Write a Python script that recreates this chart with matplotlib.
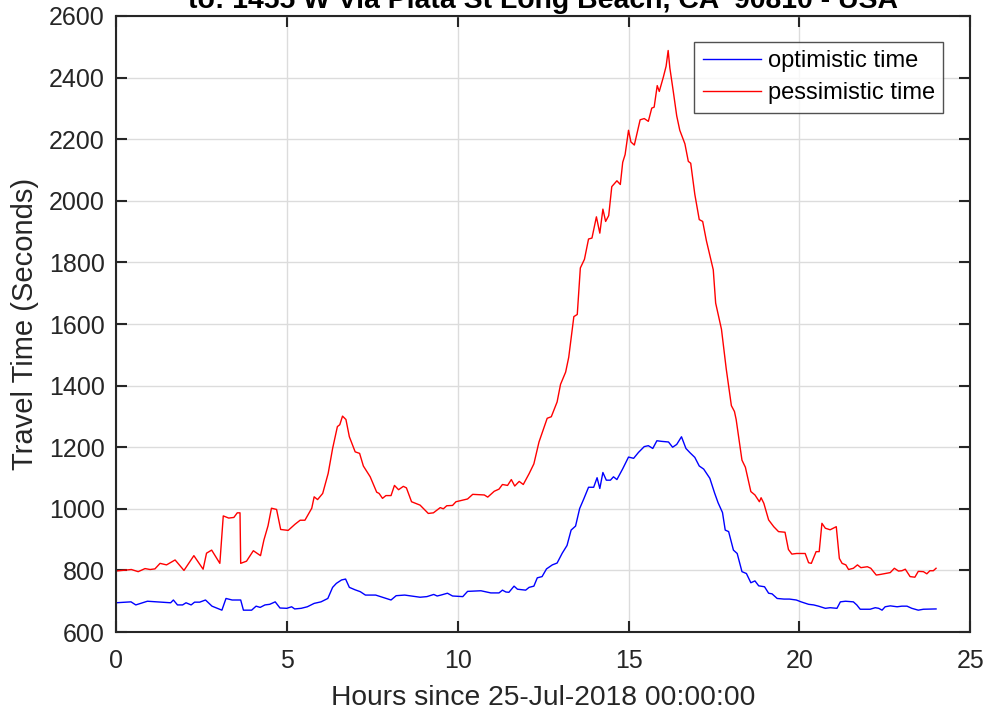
import numpy as np
import matplotlib
matplotlib.use('Agg')
import matplotlib.pyplot as plt

# hours / seconds
hours_pess = [0.0, 0.45, 0.65, 0.85, 1.0, 1.14, 1.29, 1.48, 1.73, 1.99, 2.28, 2.55, 2.65, 2.8,
              3.04, 3.14, 3.3, 3.45, 3.55, 3.63, 3.65, 3.82, 4.02, 4.23, 4.33, 4.45, 4.55, 4.7,
              4.82, 5.04, 5.24, 5.39, 5.53, 5.73, 5.8, 5.9, 6.05, 6.21, 6.34, 6.48, 6.55, 6.63,
              6.73, 6.83, 7.0, 7.13, 7.24, 7.44, 7.63, 7.7, 7.8, 7.9, 8.05, 8.15, 8.27, 8.41,
              8.5, 8.65, 8.9, 9.14, 9.29, 9.49, 9.58, 9.68, 9.85, 9.95, 10.29, 10.44, 10.78,
              10.88, 11.07, 11.21, 11.31, 11.46, 11.57, 11.67, 11.8, 11.92, 12.09, 12.23, 12.38,
              12.62, 12.74, 12.91, 13.01, 13.16, 13.25, 13.4, 13.5, 13.59, 13.71, 13.83, 13.93,
              14.06, 14.16, 14.25, 14.33, 14.42, 14.51, 14.66, 14.76, 14.83, 14.9, 15.0, 15.07,
              15.17, 15.34, 15.46, 15.58, 15.68, 15.75, 15.84, 15.9, 16.02, 16.1, 16.16, 16.21,
              16.31, 16.41, 16.5, 16.65, 16.75, 16.82, 16.94, 17.07, 17.17, 17.28, 17.48, 17.55,
              17.72, 17.86, 18.01, 18.1, 18.15, 18.32, 18.42, 18.58, 18.7, 18.83, 18.88, 18.96,
              19.1, 19.25, 19.39, 19.58, 19.68, 19.78, 19.92, 20.17, 20.27, 20.35, 20.49, 20.58,
              20.66, 20.76, 20.9, 21.08, 21.17, 21.25, 21.36, 21.44, 21.58, 21.7, 21.8, 21.99,
              22.09, 22.25, 22.37, 22.51, 22.66, 22.78, 22.9, 23.0, 23.1, 23.24, 23.38, 23.48,
              23.63, 23.73, 23.82, 23.92, 24.0]
pessimistic = [798, 803, 796, 806, 803, 805, 823, 818, 834, 800, 848, 804, 856, 866,
               823, 977, 970, 972, 987, 987, 823, 830, 864, 848, 899, 945, 1002, 998,
               933, 930, 950, 963, 963, 1002, 1039, 1030, 1050, 1115, 1196, 1267, 1273, 1301,
               1290, 1234, 1185, 1180, 1139, 1104, 1054, 1050, 1034, 1043, 1043, 1076, 1062, 1073,
               1068, 1023, 1012, 985, 987, 1004, 1000, 1010, 1011, 1023, 1032, 1047, 1045,
               1038, 1057, 1064, 1079, 1076, 1095, 1074, 1089, 1079, 1114, 1146, 1217,
               1294, 1299, 1347, 1404, 1444, 1492, 1624, 1631, 1782, 1810, 1876, 1879,
               1948, 1895, 1973, 1933, 1952, 2046, 2065, 2053, 2125, 2150, 2229, 2191,
               2181, 2263, 2267, 2258, 2301, 2304, 2374, 2355, 2402, 2437, 2488, 2431,
               2355, 2276, 2229, 2185, 2128, 2122, 2021, 1939, 1933, 1870, 1776, 1668,
               1583, 1454, 1335, 1316, 1290, 1158, 1135, 1056, 1045, 1023, 1036, 1018,
               964, 942, 926, 924, 868, 853, 855, 855, 825, 823, 861, 861,
               953, 937, 932, 942, 839, 823, 818, 803, 807, 818, 809, 812,
               807, 785, 787, 790, 793, 807, 798, 799, 804, 780, 778, 797,
               796, 789, 799, 799, 807]

hours_opt = [0.0, 0.44, 0.58, 0.92, 1.6, 1.68, 1.8, 1.95, 2.05, 2.2, 2.3, 2.45, 2.62, 2.81,
             3.1, 3.22, 3.4, 3.65, 3.73, 3.97, 4.1, 4.22, 4.36, 4.5, 4.66, 4.8, 5.0, 5.14,
             5.23, 5.42, 5.6, 5.8, 6.0, 6.2, 6.34, 6.45, 6.6, 6.72, 6.83, 7.0, 7.15, 7.3,
             7.6, 7.8, 8.05, 8.2, 8.45, 8.9, 9.1, 9.3, 9.4, 9.51, 9.7, 9.85, 10.15, 10.29,
             10.68, 10.97, 11.21, 11.31, 11.41, 11.5, 11.65, 11.75, 11.99, 12.09, 12.23, 12.33,
             12.47, 12.6, 12.77, 12.91, 13.06, 13.2, 13.32, 13.45, 13.57, 13.69, 13.83, 13.98,
             14.08, 14.16, 14.25, 14.35, 14.47, 14.56, 14.66, 14.83, 15.0, 15.15, 15.29, 15.46,
             15.58, 15.71, 15.83, 15.97, 16.17, 16.29, 16.41, 16.55, 16.68, 16.8, 16.94, 17.07,
             17.2, 17.38, 17.52, 17.62, 17.75, 17.83, 17.93, 18.07, 18.18, 18.32, 18.45, 18.58,
             18.7, 18.81, 18.98, 19.1, 19.2, 19.35, 19.55, 19.71, 19.91, 20.05, 20.27, 20.42,
             20.56, 20.76, 20.9, 21.1, 21.2, 21.35, 21.58, 21.68, 21.78, 22.07, 22.22, 22.32,
             22.42, 22.51, 22.66, 22.86, 23.0, 23.15, 23.29, 23.48, 23.63, 24.0]
optimistic = [695, 698, 688, 700, 695, 704, 688, 688, 695, 688, 697, 697, 704, 684,
              671, 709, 704, 704, 671, 671, 684, 680, 688, 690, 698, 678, 677, 682,
              675, 677, 682, 693, 698, 709, 745, 758, 769, 772, 745, 737, 731, 720,
              720, 713, 704, 718, 720, 713, 715, 722, 717, 720, 726, 717, 715, 732,
              734, 727, 727, 736, 730, 729, 749, 739, 736, 745, 749, 776,
              780, 805, 818, 824, 856, 881, 931, 944, 1001, 1032, 1070, 1070,
              1101, 1066, 1118, 1093, 1093, 1104, 1095, 1130, 1168, 1164, 1183, 1202,
              1205, 1196, 1221, 1219, 1217, 1200, 1209, 1234, 1196, 1182, 1167, 1139,
              1129, 1099, 1051, 1020, 988, 931, 926, 866, 855, 796, 790, 760,
              766, 750, 747, 726, 724, 709, 707, 707, 704, 698, 690, 688,
              684, 677, 679, 677, 698, 700, 698, 688, 674, 674, 679, 677,
              671, 682, 685, 682, 684, 684, 677, 671, 674, 675]

title_text = 'to: 1455 W Via Plata St Long Beach, CA  90810 - USA'

plt.rcParams['font.family'] = ['Liberation Sans', 'DejaVu Sans']
dark = '#262626'

fig = plt.figure(figsize=(9.87, 7.17), dpi=100)
ax = fig.add_axes([0.1175, 0.1185, 0.8655, 0.8592])

ax.plot(hours_opt, optimistic, color='#0000ff', lw=1.0, label='optimistic time')
ax.plot(hours_pess, pessimistic, color='#ff0000', lw=1.0, label='pessimistic time')

ax.set_xlim(0, 25)
ax.set_ylim(600, 2600)
ax.set_xticks(np.arange(0, 26, 5))
ax.set_yticks(np.arange(600, 2601, 200))
ax.grid(True, color='#dcdcdc', lw=1.0)
ax.set_axisbelow(True)
ax.tick_params(direction='in', length=8, width=1.5, colors=dark, labelsize=18,
               top=True, right=True)
ax.tick_params(axis='x', pad=12)
ax.tick_params(axis='y', pad=8)
for sp in ax.spines.values():
    sp.set_color(dark)
    sp.set_linewidth(1.5)

ax.set_xlabel('Hours since 25-Jul-2018 00:00:00', fontsize=20.3, color=dark, labelpad=9)
ax.set_ylabel('Travel Time (Seconds)', fontsize=21, color=dark, labelpad=7)
ax.text(0.5, 1.013, title_text, transform=ax.transAxes, ha='center', va='baseline',
        fontsize=20.4, fontweight='bold', color='black', clip_on=False)

leg = ax.legend(loc='upper right', bbox_to_anchor=(0.9684, 0.9578), fontsize=17,
                frameon=True, fancybox=False, handlelength=2.45, borderpad=0.36,
                labelspacing=0.42, handletextpad=0.3, borderaxespad=0)
leg.get_frame().set_edgecolor(dark)
leg.get_frame().set_linewidth(1.0)
for t in leg.get_texts():
    t.set_color('black')

fig.savefig('out.png', dpi=100)
